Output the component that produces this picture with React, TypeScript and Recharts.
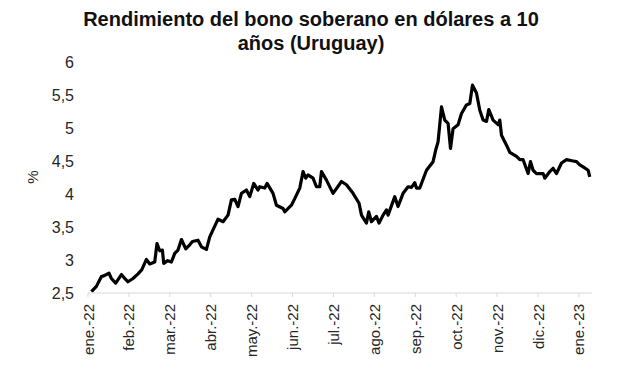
import React from "react";
import { LineChart, Line, XAxis, YAxis } from "recharts";

// Month position (0 = ene-22 ... 12 = ene-23)
const monthPos = [
  0.083, 0.205, 0.328, 0.384, 0.513, 0.572, 0.677, 0.817, 0.897, 0.978,
  1.1, 1.222, 1.313, 1.428, 1.509, 1.631, 1.687, 1.753, 1.819, 1.851,
  1.949, 2.039, 2.12, 2.2, 2.284, 2.389, 2.487, 2.553, 2.689, 2.773,
  2.895, 2.976, 3.073, 3.178, 3.301, 3.423, 3.506, 3.587, 3.667, 3.751,
  3.873, 3.954, 4.051, 4.156, 4.198, 4.32, 4.377, 4.523, 4.606, 4.768,
  4.809, 4.973, 5.054, 5.176, 5.257, 5.323, 5.379, 5.501, 5.584, 5.665,
  5.707, 5.829, 5.99, 6.196, 6.318, 6.479, 6.626, 6.685, 6.807, 6.863,
  6.929, 7.051, 7.115, 7.213, 7.296, 7.335, 7.499, 7.579, 7.702, 7.824,
  7.907, 7.988, 8.029, 8.11, 8.274, 8.435, 8.501, 8.557, 8.641, 8.721,
  8.802, 8.861, 8.924, 9.046, 9.13, 9.252, 9.333, 9.399, 9.496, 9.577,
  9.658, 9.741, 9.797, 9.902, 10.024, 10.066, 10.108, 10.23, 10.311, 10.474,
  10.555, 10.636, 10.758, 10.817, 10.88, 10.963, 11.125, 11.166, 11.289, 11.369,
  11.452, 11.575, 11.697, 11.858, 11.941, 12.022, 12.103, 12.225, 12.266,
];

const yieldPct = [
  2.52, 2.6, 2.75, 2.76, 2.8, 2.72, 2.65, 2.78, 2.72, 2.67,
  2.72, 2.79, 2.85, 3.01, 2.94, 2.97, 3.25, 3.14, 3.15, 2.95,
  2.99, 2.97, 3.1, 3.15, 3.31, 3.17, 3.23, 3.28, 3.3, 3.2,
  3.16, 3.35, 3.48, 3.62, 3.58, 3.68, 3.91, 3.92, 3.81, 4.01,
  4.06, 3.96, 4.16, 4.06, 4.11, 4.09, 4.16, 4.01, 3.83, 3.78,
  3.73, 3.83, 3.93, 4.09, 4.34, 4.24, 4.29, 4.24, 4.11, 4.11,
  4.34, 4.21, 4.01, 4.19, 4.14, 4.01, 3.86, 3.68, 3.56, 3.73,
  3.58, 3.66, 3.56, 3.68, 3.76, 3.68, 3.96, 3.81, 4.01, 4.11,
  4.1, 4.17, 4.09, 4.09, 4.36, 4.49, 4.67, 4.79, 5.32, 5.12,
  5.07, 4.69, 4.99, 5.05, 5.22, 5.35, 5.37, 5.65, 5.53, 5.27,
  5.12, 5.1, 5.28, 5.12, 5.05, 5.12, 4.89, 4.74, 4.63, 4.57,
  4.52, 4.52, 4.31, 4.49, 4.36, 4.31, 4.31, 4.24, 4.34, 4.39,
  4.31, 4.47, 4.52, 4.5, 4.49, 4.44, 4.41, 4.36, 4.26,
];

const monthLabels = [
  "ene.-22", "feb.-22", "mar.-22", "abr.-22", "may.-22", "jun.-22", "jul.-22",
  "ago.-22", "sep.-22", "oct.-22", "nov.-22", "dic.-22", "ene.-23",
];
const monthTicks = monthLabels.map((_, i) => i);
const yTicks = [2.5, 3, 3.5, 4, 4.5, 5, 5.5, 6];

const data = monthPos.map((m, i) => ({ m, v: yieldPct[i] }));

const FONT = "'Liberation Sans', Arial, sans-serif";

const XTick = (props: any) => {
  const { x, y, payload } = props;
  return (
    <text
      x={x}
      y={y}
      transform={`rotate(-90, ${x}, ${y})`}
      textAnchor="end"
      dominantBaseline="central"
      fontFamily={FONT}
      fontSize={15}
      fill="#262626"
    >
      {monthLabels[payload.value]}
    </text>
  );
};

export default function App() {
  return (
    <div style={{ position: "absolute", left: 0, top: 0, width: 617, height: 379, background: "#fff" }}>
      <div
        style={{
          position: "absolute",
          left: 0,
          top: 7,
          width: 622,
          textAlign: "center",
          fontFamily: FONT,
          fontWeight: "bold",
          fontSize: 20,
          lineHeight: "24px",
          color: "#111",
        }}
      >
        Rendimiento del bono soberano en dólares a 10
        <br />
        años (Uruguay)
      </div>
      <div
        style={{
          position: "absolute",
          left: 23,
          top: 168,
          width: 20,
          height: 18,
          textAlign: "center",
          lineHeight: "18px",
          transform: "rotate(-90deg)",
          fontFamily: FONT,
          fontSize: 15,
          color: "#262626",
        }}
      >
        %
      </div>
      <div style={{ position: "absolute", left: 0, top: 0 }}>
        <LineChart
          width={617}
          height={379}
          data={data}
          margin={{ top: 62, right: 25, left: 0, bottom: 0 }}
        >
          <XAxis
            type="number"
            dataKey="m"
            domain={[0, 12.32]}
            ticks={monthTicks}
            interval={0}
            height={86}
            stroke="#d9d9d9"
            tickSize={4}
            tickMargin={7}
            tick={<XTick />}
            allowDataOverflow
          />
          <YAxis
            type="number"
            domain={[2.5, 6]}
            ticks={yTicks}
            width={88}
            axisLine={false}
            tickLine={false}
            tickSize={0}
            tickMargin={14}
            tickFormatter={(v: number) => String(v).replace(".", ",")}
            tick={{ fontFamily: FONT, fontSize: 16, fill: "#262626" }}
            allowDataOverflow
          />
          <Line
            type="linear"
            dataKey="v"
            stroke="#000"
            strokeWidth={3.2}
            dot={false}
            isAnimationActive={false}
            strokeLinejoin="round"
          />
        </LineChart>
      </div>
    </div>
  );
}
